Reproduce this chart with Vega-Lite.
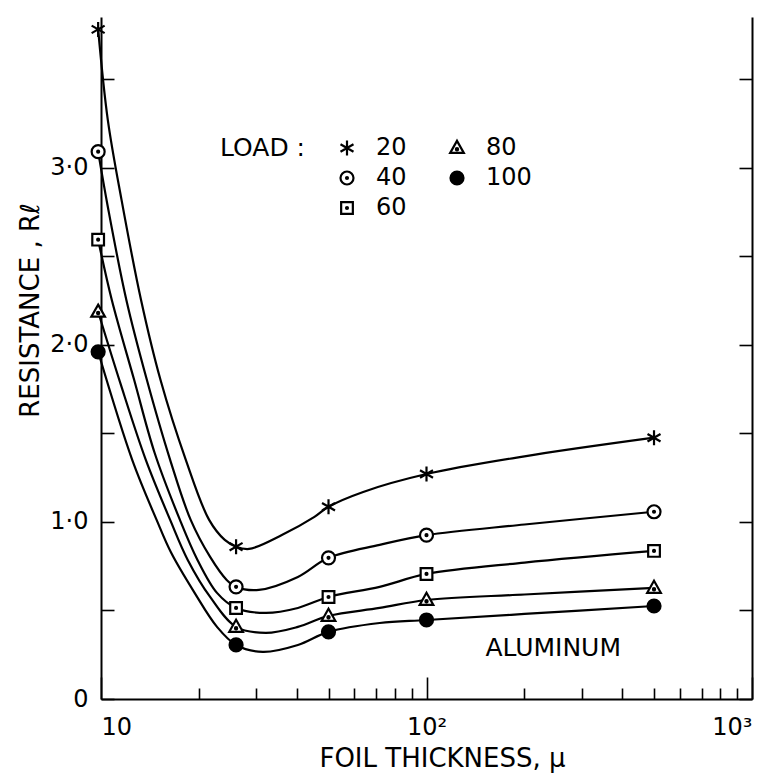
{
  "$schema": "https://vega.github.io/schema/vega-lite/v6.json",
  "width": 651,
  "height": 682,
  "autosize": {"type": "none"},
  "padding": {"left": 101, "top": 17, "right": 10, "bottom": 80},
  "background": "white",
  "config": {
    "view": {"stroke": null},
    "font": "DejaVu Sans",
    "axis": {
      "domainColor": "black", "domainWidth": 2, "tickColor": "black", "tickWidth": 1.6,
      "labelColor": "black", "titleColor": "black", "grid": false,
      "labelFont": "DejaVu Sans", "titleFont": "DejaVu Sans", "titleFontWeight": "normal", "labelOverlap": false
    },
    "legend": {
      "orient": "none", "legendX": 119, "legendY": 119, "columns": 2,
      "titleOrient": "left", "titleFontSize": 25, "titleFontWeight": "normal", "titleFont": "DejaVu Sans",
      "titleColor": "black", "titleBaseline": "top", "titleAnchor": "start", "titlePadding": 30,
      "labelFontSize": 24, "labelFont": "DejaVu Sans", "labelColor": "black", "labelOffset": 17,
      "symbolStrokeWidth": 2.2, "symbolStrokeColor": "black", "symbolSize": 169,
      "rowPadding": 6, "columnPadding": 38, "padding": 0
    }
  },
  "datasets": {
    "curves": [
      {"load": "20", "thickness": 9.8, "resistance": 3.78},
      {"load": "20", "thickness": 10.49, "resistance": 3.271},
      {"load": "20", "thickness": 11.56, "resistance": 2.819},
      {"load": "20", "thickness": 13.27, "resistance": 2.254},
      {"load": "20", "thickness": 15.23, "resistance": 1.802},
      {"load": "20", "thickness": 18.22, "resistance": 1.35},
      {"load": "20", "thickness": 21.49, "resistance": 1.011},
      {"load": "20", "thickness": 24.0, "resistance": 0.898},
      {"load": "20", "thickness": 26, "resistance": 0.86},
      {"load": "20", "thickness": 28.5, "resistance": 0.847},
      {"load": "20", "thickness": 36.06, "resistance": 0.927},
      {"load": "20", "thickness": 45.26, "resistance": 1.028},
      {"load": "20", "thickness": 50, "resistance": 1.085},
      {"load": "20", "thickness": 63.9, "resistance": 1.169},
      {"load": "20", "thickness": 100, "resistance": 1.27},
      {"load": "20", "thickness": 200, "resistance": 1.37},
      {"load": "20", "thickness": 500, "resistance": 1.475},

      {"load": "40", "thickness": 9.8, "resistance": 3.09},
      {"load": "40", "thickness": 10.49, "resistance": 2.78},
      {"load": "40", "thickness": 11.96, "resistance": 2.254},
      {"load": "40", "thickness": 13.83, "resistance": 1.802},
      {"load": "40", "thickness": 16.31, "resistance": 1.35},
      {"load": "40", "thickness": 18.86, "resistance": 1.011},
      {"load": "40", "thickness": 21.64, "resistance": 0.802},
      {"load": "40", "thickness": 24.33, "resistance": 0.672},
      {"load": "40", "thickness": 26, "resistance": 0.633},
      {"load": "40", "thickness": 30.55, "resistance": 0.616},
      {"load": "40", "thickness": 40.26, "resistance": 0.689},
      {"load": "40", "thickness": 50, "resistance": 0.797},
      {"load": "40", "thickness": 71.8, "resistance": 0.87},
      {"load": "40", "thickness": 100, "resistance": 0.925},
      {"load": "40", "thickness": 200, "resistance": 0.985},
      {"load": "40", "thickness": 500, "resistance": 1.057},

      {"load": "60", "thickness": 9.8, "resistance": 2.593},
      {"load": "60", "thickness": 10.79, "resistance": 2.254},
      {"load": "60", "thickness": 12.64, "resistance": 1.802},
      {"load": "60", "thickness": 14.61, "resistance": 1.39},
      {"load": "60", "thickness": 17.48, "resistance": 1.011},
      {"load": "60", "thickness": 19.79, "resistance": 0.785},
      {"load": "60", "thickness": 22.72, "resistance": 0.599},
      {"load": "60", "thickness": 26, "resistance": 0.514},
      {"load": "60", "thickness": 32.06, "resistance": 0.486},
      {"load": "60", "thickness": 40.26, "resistance": 0.514},
      {"load": "60", "thickness": 50, "resistance": 0.576},
      {"load": "60", "thickness": 71.8, "resistance": 0.633},
      {"load": "60", "thickness": 100, "resistance": 0.706},
      {"load": "60", "thickness": 200, "resistance": 0.77},
      {"load": "60", "thickness": 500, "resistance": 0.836},

      {"load": "80", "thickness": 9.8, "resistance": 2.186},
      {"load": "80", "thickness": 11.48, "resistance": 1.78},
      {"load": "80", "thickness": 13.73, "resistance": 1.35},
      {"load": "80", "thickness": 16.31, "resistance": 1.011},
      {"load": "80", "thickness": 18.47, "resistance": 0.785},
      {"load": "80", "thickness": 21.64, "resistance": 0.576},
      {"load": "80", "thickness": 26, "resistance": 0.407},
      {"load": "80", "thickness": 32.06, "resistance": 0.373},
      {"load": "80", "thickness": 40.26, "resistance": 0.407},
      {"load": "80", "thickness": 50, "resistance": 0.469},
      {"load": "80", "thickness": 71.8, "resistance": 0.514},
      {"load": "80", "thickness": 100, "resistance": 0.559},
      {"load": "80", "thickness": 200, "resistance": 0.59},
      {"load": "80", "thickness": 500, "resistance": 0.627},

      {"load": "100", "thickness": 9.8, "resistance": 1.96},
      {"load": "100", "thickness": 12.47, "resistance": 1.35},
      {"load": "100", "thickness": 14.82, "resistance": 1.011},
      {"load": "100", "thickness": 16.43, "resistance": 0.825},
      {"load": "100", "thickness": 19.39, "resistance": 0.599},
      {"load": "100", "thickness": 22.72, "resistance": 0.407},
      {"load": "100", "thickness": 26, "resistance": 0.305},
      {"load": "100", "thickness": 31.41, "resistance": 0.266},
      {"load": "100", "thickness": 40.26, "resistance": 0.305},
      {"load": "100", "thickness": 50, "resistance": 0.379},
      {"load": "100", "thickness": 71.8, "resistance": 0.429},
      {"load": "100", "thickness": 100, "resistance": 0.446},
      {"load": "100", "thickness": 200, "resistance": 0.48},
      {"load": "100", "thickness": 500, "resistance": 0.525}
    ],
    "markers": [
      {"load": "20", "thickness": 9.8, "resistance": 3.78},
      {"load": "20", "thickness": 26, "resistance": 0.86},
      {"load": "20", "thickness": 50, "resistance": 1.085},
      {"load": "20", "thickness": 100, "resistance": 1.27},
      {"load": "20", "thickness": 500, "resistance": 1.475},
      {"load": "40", "thickness": 9.8, "resistance": 3.09},
      {"load": "40", "thickness": 26, "resistance": 0.633},
      {"load": "40", "thickness": 50, "resistance": 0.797},
      {"load": "40", "thickness": 100, "resistance": 0.925},
      {"load": "40", "thickness": 500, "resistance": 1.057},
      {"load": "60", "thickness": 9.8, "resistance": 2.593},
      {"load": "60", "thickness": 26, "resistance": 0.514},
      {"load": "60", "thickness": 50, "resistance": 0.576},
      {"load": "60", "thickness": 100, "resistance": 0.706},
      {"load": "60", "thickness": 500, "resistance": 0.836},
      {"load": "80", "thickness": 9.8, "resistance": 2.186},
      {"load": "80", "thickness": 26, "resistance": 0.407},
      {"load": "80", "thickness": 50, "resistance": 0.469},
      {"load": "80", "thickness": 100, "resistance": 0.559},
      {"load": "80", "thickness": 500, "resistance": 0.627},
      {"load": "100", "thickness": 9.8, "resistance": 1.96},
      {"load": "100", "thickness": 26, "resistance": 0.305},
      {"load": "100", "thickness": 50, "resistance": 0.379},
      {"load": "100", "thickness": 100, "resistance": 0.446},
      {"load": "100", "thickness": 500, "resistance": 0.525}
    ],
    "notes": [
      {"thickness": 245, "resistance": 0.29, "label": "ALUMINUM"}
    ]
  },
  "layer": [
    {
      "data": {"name": "curves"},
      "mark": {"type": "line", "interpolate": "catmull-rom", "stroke": "black", "strokeWidth": 2.2},
      "encoding": {
        "x": {
          "field": "thickness", "type": "quantitative",
          "scale": {"type": "log", "domain": [10, 1000]},
          "axis": {
            "orient": "bottom",
            "values": [20, 30, 40, 50, 60, 70, 80, 90, 200, 300, 400, 500, 600, 700, 800, 900],
            "tickSize": -11,
            "labels": false,
            "title": "FOIL THICKNESS, μ", "titleFontSize": 26,
            "titleX": 341, "titleY": 59, "titleBaseline": "middle", "titleAlign": "center"
          }
        },
        "y": {
          "field": "resistance", "type": "quantitative",
          "scale": {"domain": [0, 3.85], "nice": false},
          "axis": {
            "orient": "left",
            "values": [0, 0.5, 1, 1.5, 2, 2.5, 3, 3.5],
            "tickSize": -13,
            "labelExpr": "datum.value == 0 ? '0' : (datum.value % 1 == 0 ? replace(format(datum.value, '.1f'), '.', '·') : '')",
            "labelFontSize": 24, "labelPadding": 26,
            "title": "RESISTANCE , Rℓ", "titleFontSize": 26,
            "titleX": -71, "titleY": 293, "titleBaseline": "middle", "titleAlign": "center", "titleAngle": -90
          }
        },
        "detail": {"field": "load", "type": "nominal"}
      }
    },
    {
      "data": {"name": "markers"},
      "mark": {"type": "point", "filled": true, "strokeWidth": 2.2, "opacity": 1, "size": 169},
      "encoding": {
        "x": {
          "field": "thickness", "type": "quantitative",
          "axis": {
            "orient": "bottom", "values": [10, 100, 1000], "tickSize": -22, "domain": false,
            "labelExpr": "datum.value == 10 ? '10' : datum.value == 100 ? '10²' : '10³'",
            "labelFontSize": 24, "labelPadding": 38, "title": null
          }
        },
        "y": {
          "field": "resistance", "type": "quantitative",
          "axis": {"orient": "right", "values": [0, 0.5, 1, 1.5, 2, 2.5, 3, 3.5], "tickSize": -13, "labels": false, "title": null}
        },
        "shape": {
          "field": "load", "type": "nominal",
          "scale": {
            "domain": ["20", "40", "60", "80", "100"],
            "range": [
              "M0,-1.15L0,1.15M-1,-0.58L1,0.58M-1,0.58L1,-0.58",
              "M1,0A1,1 0 1,1 -1,0A1,1 0 1,1 1,0Z M0.15,0A0.15,0.15 0 1,1 -0.15,0A0.15,0.15 0 1,1 0.15,0Z",
              "M-0.9,-0.9L0.9,-0.9L0.9,0.9L-0.9,0.9Z M0.15,0A0.15,0.15 0 1,1 -0.15,0A0.15,0.15 0 1,1 0.15,0Z",
              "M0,-1.1L1.05,0.75L-1.05,0.75Z M0.17,0.2A0.17,0.17 0 1,1 -0.17,0.2A0.17,0.17 0 1,1 0.17,0.2Z",
              "M1,0A1,1 0 1,1 -1,0A1,1 0 1,1 1,0Z"
            ]
          },
          "legend": {"title": "LOAD :"}
        },
        "fill": {
          "field": "load", "type": "nominal",
          "scale": {"domain": ["20", "40", "60", "80", "100"], "range": ["white", "white", "white", "white", "black"]},
          "legend": {"title": "LOAD :"}
        },
        "stroke": {
          "field": "load", "type": "nominal",
          "scale": {"domain": ["20", "40", "60", "80", "100"], "range": ["black", "black", "black", "black", "black"]},
          "legend": {"title": "LOAD :"}
        }
      }
    },
    {
      "data": {"name": "notes"},
      "mark": {"type": "text", "font": "DejaVu Sans", "fontSize": 25, "align": "center", "baseline": "middle", "color": "black"},
      "encoding": {
        "x": {"field": "thickness", "type": "quantitative", "axis": null},
        "y": {"field": "resistance", "type": "quantitative", "axis": null},
        "text": {"field": "label"}
      }
    }
  ],
  "resolve": {"axis": {"x": "independent", "y": "independent"}}
}
